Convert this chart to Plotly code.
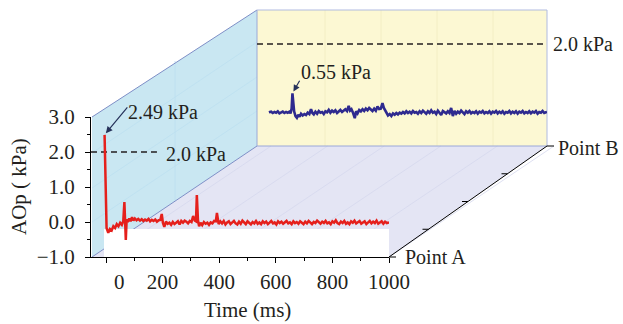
import plotly.graph_objects as go

# ---- data -------------------------------------------------------------
# Point A: overpressure (kPa) against time (ms)
time_a = [-5, 2, 8, 14, 20, 26, 32, 38, 44, 50, 56, 61, 65, 67, 70, 73, 77, 82, 87, 92,
          97, 102, 108, 114, 120, 126, 132, 138, 144, 150, 156, 162, 168, 174, 180, 186,
          192, 197, 201, 206, 212, 218, 224, 230, 236, 242, 248, 254, 260, 266, 272, 278,
          284, 290, 296, 302, 308, 314, 318, 321, 325, 329, 334, 340, 346, 352, 358, 364,
          370, 376, 382, 388, 392, 398, 404, 410, 416, 422, 428, 434, 440, 446, 452, 458,
          464, 470, 476, 482, 488, 494, 500, 506, 512, 518, 524, 530, 536, 542, 548, 554,
          560, 566, 572, 578, 584, 590, 596, 602, 608, 614, 620, 626, 632, 638, 644, 650,
          656, 662, 668, 674, 680, 686, 692, 698, 704, 710, 716, 722, 728, 734, 740, 746,
          752, 758, 764, 770, 776, 782, 788, 794, 800, 806, 812, 818, 824, 830, 836, 842,
          848, 854, 860, 866, 872, 878, 884, 890, 896, 902, 908, 914, 920, 926, 932, 938,
          944, 950, 956, 962, 968, 974, 980, 986, 992, 1000]
aop_a = [2.49, -0.17, -0.31, -0.20, -0.24, -0.12, -0.17, -0.06, -0.12, -0.02, -0.08, 0.02,
         0.57, -0.02, -0.51, 0.08, 0.00, 0.10, 0.02, 0.14, 0.04, 0.10, 0.05, 0.09,
         0.04, 0.08, 0.03, 0.07, 0.04, 0.09, 0.02, 0.06, 0.03, 0.07, 0.01, 0.05,
         0.06, 0.23, -0.02, -0.14, 0.01, -0.05, -0.02, -0.08, 0.00, -0.06, -0.01, 0.02,
         -0.07, 0.03, -0.02, 0.04, 0.01, -0.04, 0.03, 0.00, 0.17, 0.04, 0.02, 0.77,
         0.05, -0.12, -0.02, -0.09, 0.00, -0.05, -0.02, -0.08, -0.01, -0.04, 0.03, 0.02,
         0.26, -0.06, 0.02, -0.04, 0.03, -0.07, -0.01, 0.02, -0.06, -0.02, 0.03, -0.04,
         -0.07, 0.01, -0.05, 0.04, -0.02, -0.06, 0.02, -0.03, -0.07, 0.00, -0.04, 0.03,
         -0.05, -0.01, -0.06, 0.02, -0.03, 0.01, -0.06, -0.02, 0.03, -0.04, -0.01, -0.07,
         0.02, -0.03, 0.01, -0.05, -0.02, 0.03, -0.04, -0.01, -0.06, 0.02, -0.03, 0.00,
         -0.05, 0.02, -0.02, -0.06, 0.01, -0.04, 0.03, -0.02, -0.06, 0.00, -0.03, 0.04,
         -0.02, -0.05, 0.01, -0.03, 0.03, -0.04, -0.01, -0.06, 0.02, -0.02, 0.05, -0.03,
         -0.06, 0.01, -0.03, 0.03, -0.05, -0.01, -0.06, 0.02, -0.02, 0.04, -0.04, -0.01,
         0.03, -0.05, -0.02, 0.02, -0.06, -0.01, 0.03, -0.04, 0.01, -0.03, 0.04, -0.05,
         -0.01, 0.02, -0.05, 0.01, -0.03, -0.01]

# Point B: overpressure (kPa) against time (ms)
time_b = [-4, 4, 10, 16, 22, 28, 34, 40, 46, 52, 58, 64, 70, 74, 78, 81, 84, 87, 92, 97,
          102, 107, 112, 118, 124, 130, 136, 142, 148, 153, 158, 164, 170, 176, 182, 188,
          194, 200, 206, 212, 218, 224, 230, 236, 242, 248, 254, 260, 266, 272, 278, 284,
          289, 294, 300, 306, 311, 316, 322, 328, 334, 340, 346, 352, 358, 364, 370, 376,
          382, 388, 394, 400, 406, 411, 416, 421, 426, 432, 438, 444, 450, 456, 462, 468,
          474, 480, 486, 492, 498, 504, 510, 516, 522, 528, 534, 540, 546, 552, 558, 564,
          570, 576, 582, 588, 594, 600, 606, 612, 618, 624, 630, 636, 642, 648, 654, 660,
          666, 672, 678, 684, 690, 696, 702, 708, 714, 720, 726, 732, 738, 744, 750, 756,
          762, 768, 774, 780, 786, 792, 798, 804, 810, 816, 822, 828, 834, 840, 846, 852,
          858, 864, 870, 876, 882, 888, 894, 900, 906, 912, 918, 924, 930, 936, 942, 948,
          954, 960, 966, 972, 978, 984, 990, 996, 1000]
aop_b = [-0.01, 0.01, -0.03, 0.00, -0.02, 0.02, -0.04, -0.01, 0.01, -0.03, 0.00, -0.02,
         0.01, -0.04, 0.10, 0.55, 0.30, 0.02, -0.12, -0.17, -0.08, -0.14, -0.05, -0.10,
         -0.06, -0.09, -0.02, -0.06, 0.08, -0.03, -0.07, 0.01, -0.05, 0.03, -0.02, 0.00,
         -0.06, 0.02, -0.01, 0.06, -0.02, 0.04, 0.00, 0.05, -0.03, 0.02, 0.06, 0.00,
         0.04, 0.08, 0.03, 0.18, 0.04, 0.08, -0.03, -0.18, 0.02, -0.04, 0.06, 0.02,
         0.08, 0.03, 0.10, 0.05, 0.12, 0.06, 0.03, 0.10, 0.04, 0.16, 0.09, 0.10,
         0.26, 0.12, 0.05, -0.04, -0.10, -0.06, -0.12, -0.04, -0.08, -0.03, -0.07, -0.02,
         -0.05, 0.00, -0.04, 0.02, -0.03, 0.01, -0.04, 0.03, -0.02, 0.00, -0.05, 0.02,
         -0.03, 0.04, -0.01, -0.05, 0.02, -0.03, 0.05, -0.02, 0.01, -0.06, 0.04, -0.01,
         -0.09, 0.03, 0.00, -0.04, 0.02, -0.03, 0.12, -0.12, 0.03, -0.05, 0.01, -0.03,
         0.04, -0.02, -0.06, 0.02, -0.02, 0.03, -0.04, 0.00, -0.03, 0.02, -0.05, 0.01,
         -0.02, 0.03, -0.04, 0.00, -0.03, 0.02, -0.05, 0.01, -0.02, 0.03, -0.04, 0.01,
         -0.03, 0.02, -0.05, 0.00, -0.02, 0.03, -0.04, 0.01, -0.03, 0.02, -0.05, 0.01,
         -0.02, 0.03, -0.04, 0.00, -0.03, 0.02, -0.04, 0.01, -0.02, 0.03, -0.05, 0.00,
         -0.02, 0.03, -0.03, -0.01, 0.00]

threshold = 2.0
peak_a = 2.49
peak_a_time = -5
peak_b = 0.55
peak_b_time = 81

x_ticks = [0, 200, 400, 600, 800, 1000]
x_tick_text = ["\u00a0\u00a0\u00a0\u00a0\u00a00", "200", "400", "600", "800", "1000"]
y_ticks = [-1, 0, 1, 2, 3]
y_tick_text = ["\u22121.0", "0.0", "1.0", "2.0", "3.0"]
depth_labels = ["Point A", "Point B"]

# ---- layout helpers (pixel -> paper) ---------------------------------
W, H = 623, 324


def px(x):
    return x / W


def py(y):
    return 1 - y / H


def poly(points):
    s = "M " + " L ".join(f"{px(x):.5f},{py(y):.5f}" for x, y in points) + " Z"
    return s


def seg(x0, y0, x1, y1, color, width=1.0):
    return dict(type="line", xref="paper", yref="paper", layer="below",
                x0=px(x0), y0=py(y0), x1=px(x1), y1=py(y1),
                line=dict(color=color, width=width))


FONT = "Liberation Serif"
INK = "#231f20"

# box corners
FL, FR, FB, FT = 92, 389, 257, 117     # front plane
BL, BR, BB, BT = 257, 547, 146, 10     # back plane

shapes = []
# left wall
shapes.append(dict(type="path", xref="paper", yref="paper", layer="below",
                   path=poly([(FL, FB), (FL, FT), (BL, BT), (BL, BB)]),
                   fillcolor="#c9e7f2", line=dict(width=0)))
# floor
shapes.append(dict(type="path", xref="paper", yref="paper", layer="below",
                   path=poly([(FL, FB), (FR, FB), (BR, BB), (BL, BB)]),
                   fillcolor="#e4e5f4", line=dict(width=0)))
# back wall
shapes.append(dict(type="path", xref="paper", yref="paper", layer="below",
                   path=poly([(BL, BB), (BL, BT), (BR, BT), (BR, BB)]),
                   fillcolor="#fcf8d3", line=dict(width=0)))

# faint grid on the floor (time direction) and left wall
dx, dy = BL - FL, BB - FB
for k in range(6):
    fx = 106 + k * 56.6
    shapes.append(seg(fx, FB, fx + dx, FB + dy, "#d6d8ee", 0.8))
for yv in [153, 188, 222]:
    shapes.append(seg(FL, yv, FL + dx, yv + dy, "#bcdff0", 0.8))
shapes.append(seg(175, 61, 175, 201, "#bcdff0", 0.8))
for bx in [325, 381, 437, 493]:
    shapes.append(seg(bx, BT, bx, BB, "#f1ebc2", 0.8))

# panel edges
shapes.append(seg(FL, FT, BL, BT, "#7d8ec6", 1.0))
shapes.append(seg(FL, FB, BL, BB, "#7d8ec6", 1.0))
shapes.append(seg(BL, BT, BL, BB, "#9aa8d8", 1.0))
shapes.append(seg(BL, BT, BR, BT, "#b0bbe0", 1.0))
shapes.append(seg(BR, BT, BR, BB, "#b0bbe0", 1.0))
shapes.append(seg(BL, BB, BR, BB, "#9aa8d8", 1.0))

# white front strip below the Point A trace
shapes.append(dict(type="rect", xref="paper", yref="paper", layer="below",
                   x0=px(104), x1=px(FR), y0=py(FB), y1=py(229),
                   fillcolor="white", line=dict(width=0)))

# depth axis with ticks
shapes.append(seg(FR, FB, BR, BB, "black", 1.0))
shapes.append(seg(FR, FB, FR + 7, FB, "black", 1.0))
shapes.append(seg(BR, BB, BR + 7, BB, "black", 1.0))
for f in (0.25, 0.5, 0.75):
    tx = FR + f * (BR - FR)
    ty = FB + f * (BB - FB)
    shapes.append(seg(tx - 6, ty, tx, ty, "black", 1.0))

fig = go.Figure()

# threshold lines
fig.add_trace(go.Scatter(x=[-53, 180], y=[threshold, threshold], mode="lines",
                         line=dict(color=INK, width=1.6, dash="6px,4px"),
                         xaxis="x", yaxis="y", hoverinfo="skip"))
fig.add_trace(go.Scatter(x=[-47, 1000], y=[threshold, threshold], mode="lines",
                         line=dict(color=INK, width=1.6, dash="6px,4px"),
                         xaxis="x2", yaxis="y2", hoverinfo="skip"))

# pressure traces
fig.add_trace(go.Scatter(x=time_b, y=aop_b, mode="lines", name=depth_labels[1],
                         line=dict(color="#2e2a8f", width=2.6),
                         xaxis="x2", yaxis="y2"))
fig.add_trace(go.Scatter(x=time_a, y=aop_a, mode="lines", name=depth_labels[0],
                         line=dict(color="#e5201c", width=2.5),
                         xaxis="x", yaxis="y"))

tf = dict(family=FONT, size=21, color=INK)
af = dict(family=FONT, size=20, color=INK)


def label(text, x, y, xanchor="center", angle=0, font=af):
    return dict(text=text, xref="paper", yref="paper", x=px(x), y=py(y),
                xanchor=xanchor, yanchor="middle", showarrow=False,
                textangle=angle, font=font)


annotations = [
    label("2.49 kPa", 163, 112),
    label(f"{threshold:.1f} kPa", 196, 154),
    label(f"{threshold:.1f} kPa", 551, 44, xanchor="left"),
    label("0.55 kPa", 336, 72),
    label(depth_labels[0], 403, 257, xanchor="left"),
    label(depth_labels[1], 556, 148, xanchor="left"),
    label("Time (ms)", 247, 310, font=tf),
    label("AOp ( kPa)", 19, 187, angle=-90, font=tf),
    dict(text="", x=peak_a_time, y=peak_a, xref="x", yref="y", showarrow=True,
         ax=24, ay=-29, arrowhead=2, arrowsize=1.1, arrowwidth=1.2,
         arrowcolor="#26325a", standoff=2),
    dict(text="", x=peak_b_time, y=peak_b, xref="x2", yref="y2", showarrow=True,
         ax=8, ay=-14, arrowhead=2, arrowsize=1.1, arrowwidth=1.2,
         arrowcolor="#26325a", standoff=2),
]

fig.update_layout(
    template="none",
    width=W, height=H,
    margin=dict(l=0, r=0, t=0, b=0, pad=0, autoexpand=False),
    paper_bgcolor="white", plot_bgcolor="rgba(0,0,0,0)",
    showlegend=False,
    shapes=shapes,
    annotations=annotations,
    xaxis=dict(domain=[px(91), px(FR)], range=[-53, 1000], anchor="y",
               automargin=False,
               tickvals=x_ticks, ticktext=x_tick_text, ticks="outside",
               ticklen=5, tickwidth=1, tickcolor="black", showline=True,
               linecolor="black", linewidth=1, showgrid=False, zeroline=False,
               tickfont=tf, ticklabelstandoff=1,
               minor=dict(tickvals=[100, 300, 500, 700, 900], ticks="outside",
                          ticklen=3, tickcolor="black", showgrid=False)),
    yaxis=dict(domain=[py(FB), py(FT)], range=[-1, 3], anchor="x",
               automargin=False,
               tickvals=y_ticks, ticktext=y_tick_text, ticks="outside",
               ticklen=5, tickwidth=1, tickcolor="black", showline=True,
               linecolor="black", linewidth=1, showgrid=False, zeroline=False,
               tickfont=tf, ticklabelstandoff=6,
               minor=dict(tickvals=[-0.5, 0.5, 1.5, 2.5], ticks="outside",
                          ticklen=3, tickcolor="black", showgrid=False)),
    xaxis2=dict(domain=[px(BL), px(BR)], range=[-47, 1000], anchor="y2",
                visible=False, automargin=False),
    yaxis2=dict(domain=[py(BB), py(BT)], range=[-1, 3], anchor="x2",
                visible=False, automargin=False),
)

fig.write_html("out.html")
